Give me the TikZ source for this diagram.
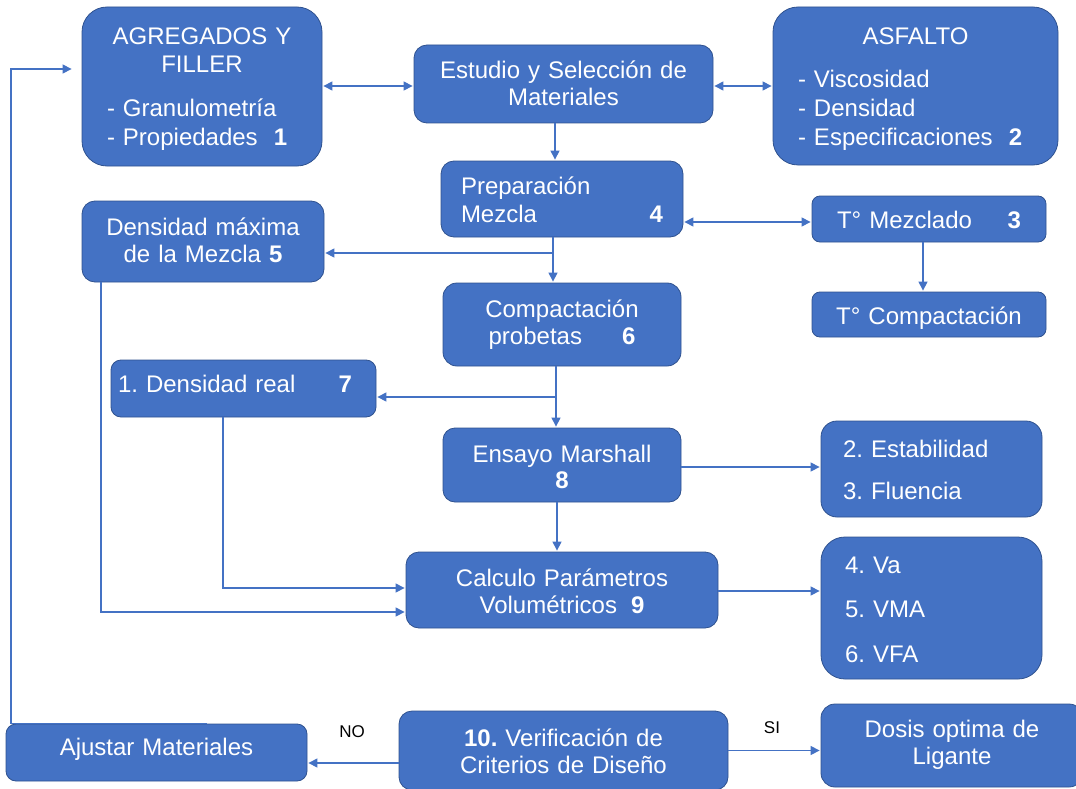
\documentclass[tikz,border=0pt]{standalone}
\usepackage{fontspec}
\setmainfont{Liberation Sans}
\usetikzlibrary{arrows.meta,calc}
\setlength{\parindent}{0pt}
\frenchspacing
\definecolor{boxfill}{HTML}{4472C4}
\definecolor{boxline}{HTML}{2F528F}
\definecolor{linec}{HTML}{4472C4}
\newcommand{\topstr}{\rule{0pt}{26pt}}
\newcommand{\botstr}[1]{\rule[-#1pt]{0pt}{#1pt}}
\newcommand{\pushright}{\hskip 0pt plus 1filll\relax}
\begin{document}
\begin{tikzpicture}[x=1pt,y=-1pt,
  box/.style={draw=boxline, line width=0.8pt, fill=boxfill, text=white,
    inner xsep=0pt, inner ysep=0pt, font=\fontsize{24}{27}\selectfont\frenchspacing, align=center},
  lnk/.style={draw=linec, line width=1.2pt},
  arr/.style={lnk, -{Triangle[length=9pt,width=9pt]}, shorten >=1pt},
  darr/.style={lnk, {Triangle[length=9pt,width=9pt]}-{Triangle[length=9pt,width=9pt]}, shorten >=1pt, shorten <=1pt},
  lbl/.style={font=\fontsize{17}{20}\selectfont, text=black, inner sep=0pt}
]
\useasboundingbox (0,0) rectangle (1076,789);

% boxes
\node[box, minimum width=240pt, minimum height=159pt, text width=190pt, inner xsep=25pt, align=left, rounded corners=25pt] (agg) at (202,86.5)
  {{\centering\topstr AGREGADOS Y\\[1pt]FILLER\par}\vspace{17pt}- Granulometría\\[2pt]- Propiedades\ \ \textbf{1}\botstr{8}};
\node[box, minimum width=299pt, minimum height=78pt, text width=299pt, rounded corners=13pt] (est) at (563.5,84)
  {\topstr Estudio y Selección de\\Materiales\botstr{9}};
\node[box, minimum width=285pt, minimum height=158pt, text width=235pt, inner xsep=25pt, align=left, rounded corners=25pt] (asf) at (915.5,86)
  {{\centering\topstr ASFALTO\par}\vspace{16pt}- Viscosidad\\[2pt]- Densidad\\[2pt]- Especificaciones\ \ \textbf{2}\botstr{7}};
\node[box, minimum width=242pt, minimum height=76pt, text width=202pt, inner xsep=20pt, align=left, rounded corners=13pt] (prep) at (562,199)
  {\topstr Preparación\\[1pt]Mezcla\pushright\textbf{4}\botstr{8}};
\node[box, minimum width=242pt, minimum height=81pt, text width=242pt, rounded corners=13pt] (dmax) at (203,241.5)
  {\topstr Densidad máxima\\de la Mezcla \textbf{5}\botstr{12}};
\node[box, minimum width=234pt, minimum height=46pt, text width=184pt, inner xsep=25pt, align=left, rounded corners=8pt] (tmez) at (929,219)
  {\topstr T° Mezclado\pushright\textbf{3}\botstr{8}};
\node[box, minimum width=234pt, minimum height=45pt, text width=234pt, rounded corners=8pt] (tcomp) at (929,314.5)
  {\topstr T° Compactación\botstr{7}};
\node[box, minimum width=238pt, minimum height=83pt, text width=238pt, rounded corners=14pt] (comp) at (562,324.5)
  {\topstr Compactación\\probetas\hspace{40pt}\textbf{6}\botstr{14}};
\node[box, minimum width=265pt, minimum height=57pt, text width=251pt, inner xsep=7pt, align=left, rounded corners=10pt] (dreal) at (243.5,388.5)
  {\topstr 1. Densidad real\pushright\textbf{7}\hspace*{17pt}\botstr{19}};
\node[box, minimum width=238pt, minimum height=74pt, text width=238pt, rounded corners=12pt] (ens) at (562,465)
  {\topstr Ensayo Marshall\\[-1pt]\textbf{8}\botstr{6}};
\node[box, minimum width=221pt, minimum height=96pt, text width=177pt, inner xsep=22pt, align=left, rounded corners=16pt] (estab) at (931.5,469)
  {\topstr 2. Estabilidad\\[15pt]3. Fluencia\botstr{8}};
\node[box, minimum width=312pt, minimum height=76pt, text width=312pt, rounded corners=13pt] (calc) at (562,590)
  {\topstr Calculo Parámetros\\Volumétricos\hspace{14pt}\textbf{9}\botstr{7}};
\node[box, minimum width=221pt, minimum height=142pt, text width=173pt, inner xsep=24pt, align=left, rounded corners=24pt] (va) at (931.5,608)
  {\topstr 4. Va\\[17pt]5. VMA\\[18pt]6. VFA\botstr{7}};
\node[box, minimum width=301pt, minimum height=57pt, text width=301pt, rounded corners=10pt] (aj) at (156.5,752.5)
  {\topstr Ajustar Materiales\botstr{21}};
\node[box, minimum width=329pt, minimum height=79pt, text width=329pt, rounded corners=13pt] (ver) at (563.5,750.5)
  {\topstr\textbf{10.} Verificación de\\Criterios de Diseño\botstr{8}};
\node[box, minimum width=262pt, minimum height=83pt, text width=262pt, rounded corners=14pt] (dos) at (952,745.5)
  {\topstr Dosis optima de\\Ligante\botstr{16}};

% labels
\node[lbl] (no) at (352,732) {NO};
\node[lbl] (si) at (772,728) {SI};

% connectors
\draw[darr] ([yshift=-2pt]est.west -| agg.east) -- ([yshift=-2pt]est.west);
\draw[darr] ([yshift=-2pt]est.east) -- ([yshift=-2pt]est.east -| asf.west);
\draw[arr] ([xshift=-8.5pt]est.south) -- ([xshift=-8.5pt]est.south |- prep.north);
\draw[darr] ([yshift=-3pt]tmez.west -| prep.east) -- ([yshift=-3pt]tmez.west);
\draw[arr] ([xshift=-6pt]tmez.south) -- ([xshift=-6pt]tcomp.north);
\coordinate (j1) at (553,253);
\draw[arr] ([xshift=-9pt]prep.south) -- ([xshift=-9pt]comp.north);
\draw[arr] (j1) -- (j1 -| dmax.east);
\coordinate (j2) at (556,397);
\draw[arr] ([xshift=-6pt]comp.south) -- ([xshift=-6pt]ens.north);
\draw[arr] (j2) -- (j2 -| dreal.east);
\draw[arr] ([yshift=-2pt]ens.east) -- ([yshift=-2pt]ens.east -| estab.west);
\draw[arr] ([xshift=-5pt]ens.south) -- ([xshift=-5pt]calc.north);
\draw[arr] ([yshift=-1pt]calc.east) -- ([yshift=-1pt]calc.east -| va.west);
\draw[arr] ([xshift=-20.5pt]dreal.south) |- ([yshift=2pt]calc.west);
\draw[arr] ([xshift=-102pt]dmax.south) |- ([yshift=-22pt]calc.west);
\draw[arr] ([yshift=-12.5pt]ver.west) -- ([yshift=-12.5pt]ver.west -| aj.east);
\draw[arr] (ver.east) -- (ver.east -| dos.west);
\coordinate (fb) at (11,69);
\draw[arr, shorten >=10pt] ([xshift=50.5pt]aj.north) -| (fb) -- (fb -| agg.west);
\end{tikzpicture}
\end{document}
